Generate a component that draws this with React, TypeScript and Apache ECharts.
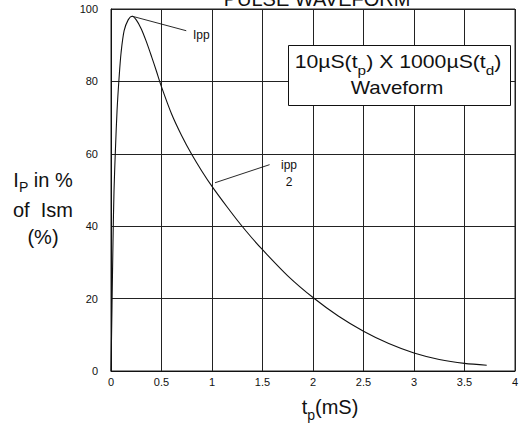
import React, { useEffect, useRef } from "react";
import * as echarts from "echarts";

// Pulse waveform: time in ms vs. current in % of Ism
const timeMs = [0, 0.01, 0.02, 0.03, 0.045, 0.06, 0.08, 0.1, 0.13, 0.17, 0.21, 0.25, 0.3, 0.35, 0.4, 0.45, 0.5, 0.6, 0.7, 0.8, 0.9, 1.0, 1.15, 1.28, 1.4, 1.5, 1.75, 2.0, 2.25, 2.5, 2.75, 3.0, 3.25, 3.5, 3.72];
const currentPct = [0, 18, 36, 50, 62, 72, 81, 88, 94, 97, 98, 97, 94.5, 91, 87, 82.8, 78.5, 71, 65, 59.8, 55.2, 51, 45.3, 40.6, 36.6, 33.5, 26.3, 20.3, 15.2, 11, 7.6, 5, 3.2, 2.1, 1.6];

// leader lines for the annotations (data coordinates)
const ippLeader = [[0.21, 98], [0.745, 94]];
const halfLeader = [[1.03, 52], [1.57, 57]];

const xTicks = ["0", "0.5", "1", "1.5", "2", "2.5", "3", "3.5", "4"];
const yTicks = ["0", "20", "40", "60", "80", "100"];

const FONT = "'Liberation Sans', Arial, Helvetica, sans-serif";
const NARROW = "'Liberation Sans Narrow', 'Liberation Sans', Arial, sans-serif";

export default function App() {
  const ref = useRef<HTMLDivElement>(null);
  useEffect(() => {
    if (!ref.current) return;
    const chart = echarts.init(ref.current, undefined, { renderer: "svg" });
    const curve = timeMs.map((t, i) => [t, currentPct[i]]);
    chart.setOption({
      animation: false,
      backgroundColor: "#fff",
      grid: {
        left: 111,
        right: 8,
        top: 9,
        bottom: 58,
        show: true,
        borderColor: "#222",
        borderWidth: 1,
      },
      xAxis: {
        type: "value",
        min: 0,
        max: 4,
        interval: 0.5,
        axisLine: { show: true, lineStyle: { color: "#111", width: 1 } },
        axisTick: { show: false },
        splitLine: { show: true, lineStyle: { color: "#222", width: 1 } },
        axisLabel: {
          color: "#111",
          fontSize: 11,
          fontFamily: NARROW,
          margin: 5,
          formatter: (v: number) => {
            const i = Math.round(v / 0.5);
            return xTicks[i] ?? String(v);
          },
        },
      },
      yAxis: {
        type: "value",
        min: 0,
        max: 100,
        interval: 20,
        axisLine: { show: true, lineStyle: { color: "#111", width: 1 } },
        axisTick: { show: false },
        splitLine: { show: true, lineStyle: { color: "#222", width: 1 } },
        axisLabel: {
          color: "#111",
          fontSize: 11,
          fontFamily: NARROW,
          margin: 13,
          formatter: (v: number) => {
            const i = Math.round(v / 20);
            return yTicks[i] ?? String(v);
          },
        },
      },
      series: [
        {
          type: "line",
          data: curve,
          showSymbol: false,
          smooth: 0.3,
          lineStyle: { color: "#111", width: 1.1 },
          z: 3,
        },
        {
          type: "line",
          data: ippLeader,
          showSymbol: false,
          lineStyle: { color: "#111", width: 0.9 },
          z: 3,
        },
        {
          type: "line",
          data: halfLeader,
          showSymbol: false,
          lineStyle: { color: "#111", width: 0.9 },
          z: 3,
        },
      ],
      graphic: [
        {
          type: "text",
          x: 317,
          y: -1,
          z: 10,
          style: {
            text: "PULSE WAVEFORM",
            font: `20px ${FONT}`,
            fill: "#111",
            align: "center",
            verticalAlign: "middle",
          },
        },
        {
          type: "rect",
          z: 10,
          shape: { x: 288.5, y: 45.5, width: 222, height: 60 },
          style: { fill: "#fff", stroke: "#111", lineWidth: 1 },
        },
        {
          type: "text",
          x: 398,
          y: 62,
          scaleX: 1.18,
          z: 11,
          style: {
            text: "{a|10µS(t}{s|p}{a|) X 1000µS(t}{s|d}{a|)}",
            align: "center",
            verticalAlign: "middle",
            rich: {
              a: { fontSize: 18, fontFamily: FONT, fill: "#111" },
              s: { fontSize: 13, fontFamily: FONT, fill: "#111", padding: [16, 0, 0, 0] },
            },
          },
        },
        {
          type: "text",
          x: 397,
          y: 88,
          scaleX: 1.14,
          z: 11,
          style: {
            text: "Waveform",
            font: `18px ${FONT}`,
            fill: "#111",
            align: "center",
            verticalAlign: "middle",
          },
        },
        {
          type: "text",
          x: 193,
          y: 35,
          z: 11,
          style: {
            text: "Ipp",
            font: `12px ${FONT}`,
            fill: "#111",
            align: "left",
            verticalAlign: "middle",
          },
        },
        {
          type: "text",
          x: 289,
          y: 165,
          z: 11,
          style: {
            text: "ipp",
            font: `12px ${FONT}`,
            fill: "#111",
            align: "center",
            verticalAlign: "middle",
          },
        },
        {
          type: "text",
          x: 289,
          y: 182,
          z: 11,
          style: {
            text: "2",
            font: `12px ${FONT}`,
            fill: "#111",
            align: "center",
            verticalAlign: "middle",
          },
        },
        {
          type: "text",
          x: 43,
          y: 180,
          z: 11,
          style: {
            text: "{a|I}{s|P}{a| in %}",
            align: "center",
            verticalAlign: "middle",
            rich: {
              a: { fontSize: 20, fontFamily: FONT, fill: "#111" },
              s: { fontSize: 14, fontFamily: FONT, fill: "#111", padding: [14, 0, 0, 0] },
            },
          },
        },
        {
          type: "text",
          x: 43,
          y: 210,
          z: 11,
          style: {
            text: "of  Ism",
            font: `20px ${FONT}`,
            fill: "#111",
            align: "center",
            verticalAlign: "middle",
          },
        },
        {
          type: "text",
          x: 43,
          y: 237,
          z: 11,
          style: {
            text: "(%)",
            font: `20px ${FONT}`,
            fill: "#111",
            align: "center",
            verticalAlign: "middle",
          },
        },
        {
          type: "text",
          x: 330,
          y: 407,
          z: 11,
          style: {
            text: "{a|t}{s|p}{a|(mS)}",
            align: "center",
            verticalAlign: "middle",
            rich: {
              a: { fontSize: 20, fontFamily: FONT, fill: "#111" },
              s: { fontSize: 14, fontFamily: FONT, fill: "#111", padding: [16, 0, 0, 0] },
            },
          },
        },
      ],
    });
    return () => chart.dispose();
  }, []);
  return (
    <div
      ref={ref}
      style={{ position: "fixed", left: 0, top: 0, width: 523, height: 429 }}
    />
  );
}
